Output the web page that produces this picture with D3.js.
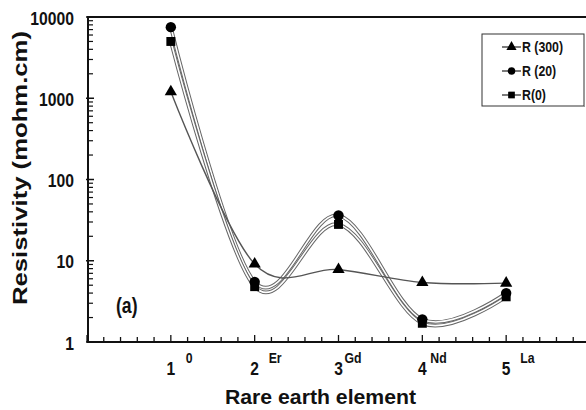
<!DOCTYPE html>
<html>
<head>
<meta charset="utf-8">
<script src="https://cdn.jsdelivr.net/npm/d3@7"></script>
<style>
  html, body { margin: 0; padding: 0; background: #fff; }
  svg { display: block; }
  text { font-family: "Liberation Sans", Arial, sans-serif; font-weight: bold; fill: #111; }
</style>
</head>
<body>
<svg id="chart" width="586" height="410"></svg>
<script>
// Sample positions and their rare-earth substituent
const positions = [1, 2, 3, 4, 5];
const elements = ["0", "Er", "Gd", "Nd", "La"];

// Resistivity (mohm.cm) per series
const r300 = [1200, 9.1, 7.8, 5.4, 5.3];
const r20 = [7500, 5.5, 36, 1.9, 4.0];
const r0 = [5000, 4.8, 28, 1.7, 3.6];

const seriesNames = ["R (300)", "R (20)", "R(0)"];
const yTickValues = [1, 10, 100, 1000, 10000];

const svg = d3.select("#chart");
const x = d3.scaleLinear().domain([0, 6]).range([87, 590]);
const y = d3.scaleLog().domain([1, 10000]).range([342, 17]);

// Condensed bold text: horizontal squeeze of the bold sans face
function narrowText(g, tx, ty, size, str, anchor, sx) {
  return g.append("text")
    .attr("transform", `translate(${tx},${ty}) scale(${sx || 0.8},1)`)
    .attr("text-anchor", anchor || "start")
    .attr("font-size", size)
    .text(str);
}

// Frame: top border
svg.append("line").attr("x1", 87).attr("x2", 586).attr("y1", 17).attr("y2", 17)
  .attr("stroke", "#111").attr("stroke-width", 2);

// X axis with minor ticks every 0.2, pointing inward
const xMinor = d3.range(0, 30.01).map(i => i / 5);
svg.append("g").selectAll("line").data(xMinor).join("line")
  .attr("x1", d => x(d)).attr("x2", d => x(d))
  .attr("y1", 342).attr("y2", d => Math.abs(d - Math.round(d)) < 1e-6 ? 335 : 337)
  .attr("stroke", "#111").attr("stroke-width", 1.3);
svg.append("line").attr("x1", 87).attr("x2", 586).attr("y1", 342).attr("y2", 342)
  .attr("stroke", "#111").attr("stroke-width", 2);

// Y axis (log) with minor ticks
const yMinor = [];
for (let e = 0; e < 4; e++) for (let m = 2; m <= 9; m++) yMinor.push(m * Math.pow(10, e));
svg.append("g").selectAll("line").data(yMinor).join("line")
  .attr("x1", 88).attr("x2", 93).attr("y1", d => y(d)).attr("y2", d => y(d))
  .attr("stroke", "#111").attr("stroke-width", 1.2);
svg.append("g").selectAll("line").data(yTickValues).join("line")
  .attr("x1", 86).attr("x2", 94).attr("y1", d => y(d)).attr("y2", d => y(d))
  .attr("stroke", "#111").attr("stroke-width", 1.5);
svg.append("line").attr("x1", 88).attr("x2", 88).attr("y1", 16).attr("y2", 343)
  .attr("stroke", "#111").attr("stroke-width", 2);

// Y tick labels
const yl = svg.append("g");
yTickValues.forEach(v => narrowText(yl, 74, y(v) + 7.5, 18.5, v, "end", 0.85));

// X tick labels with element superscripts
const xl = svg.append("g");
const supOffset = [15, 14, 6, 8, 14];
positions.forEach((p, i) => {
  narrowText(xl, x(p), 375, 19, p, "middle", 0.82);
  narrowText(xl, x(p) + supOffset[i], 363, 15, elements[i], "start", 0.82);
});

// Axis titles
svg.append("text")
  .attr("x", 225).attr("y", 404)
  .attr("font-size", 20).attr("textLength", 191).attr("lengthAdjust", "spacingAndGlyphs")
  .text("Rare earth element");
svg.append("text")
  .attr("transform", "translate(27,305) rotate(-90)")
  .attr("font-size", 20.5).attr("textLength", 274).attr("lengthAdjust", "spacingAndGlyphs")
  .text("Resistivity (mohm.cm)");

// Panel tag
narrowText(svg, 116, 313, 22, "(a)", "start", 0.8);

// Smoothed lines
const line = d3.line()
  .x((d, i) => x(positions[i]))
  .y(d => y(d))
  .curve(d3.curveCatmullRom.alpha(0));

const plot = svg.append("g");
// Hollow (double) lines for R(20) and R(0)
[r20, r0].forEach(vals => {
  plot.append("path").attr("d", line(vals)).attr("fill", "none")
    .attr("stroke", "#666").attr("stroke-width", 3.6);
  plot.append("path").attr("d", line(vals)).attr("fill", "none")
    .attr("stroke", "#fff").attr("stroke-width", 1.6);
});
plot.append("path").attr("d", line(r300)).attr("fill", "none")
  .attr("stroke", "#555").attr("stroke-width", 1.4);

// Markers
const tri = d3.symbol().type(d3.symbolTriangle).size(65);
const circ = d3.symbol().type(d3.symbolCircle).size(85);
const sq = d3.symbol().type(d3.symbolSquare).size(80);

plot.append("g").selectAll("path").data(r0).join("path")
  .attr("transform", (d, i) => `translate(${x(positions[i])},${y(d)})`)
  .attr("d", sq).attr("fill", "#000");
plot.append("g").selectAll("path").data(r20).join("path")
  .attr("transform", (d, i) => `translate(${x(positions[i])},${y(d)})`)
  .attr("d", circ).attr("fill", "#000");
plot.append("g").selectAll("path").data(r300).join("path")
  .attr("transform", (d, i) => `translate(${x(positions[i])},${y(d)})`)
  .attr("d", tri).attr("fill", "#000");

// Legend
const lg = svg.append("g");
lg.append("rect").attr("x", 482).attr("y", 34).attr("width", 102).attr("height", 72)
  .attr("fill", "#fff").attr("stroke", "#333").attr("stroke-width", 1);
lg.append("line").attr("x1", 483).attr("x2", 585).attr("y1", 106.5).attr("y2", 106.5)
  .attr("stroke", "#999").attr("stroke-width", 1);
const legendTypes = [d3.symbolTriangle, d3.symbolCircle, d3.symbolSquare];
seriesNames.forEach((name, i) => {
  const cy = 47 + i * 24;
  lg.append("line").attr("x1", 502).attr("x2", 521).attr("y1", cy).attr("y2", cy)
    .attr("stroke", "#222").attr("stroke-width", 1.2);
  lg.append("path").attr("transform", `translate(511.5,${cy})`)
    .attr("d", d3.symbol().type(legendTypes[i]).size(45))
    .attr("fill", "#000");
  narrowText(lg, 522, cy + 5, 14.5, name, "start", 0.85);
});
</script>
</body>
</html>
